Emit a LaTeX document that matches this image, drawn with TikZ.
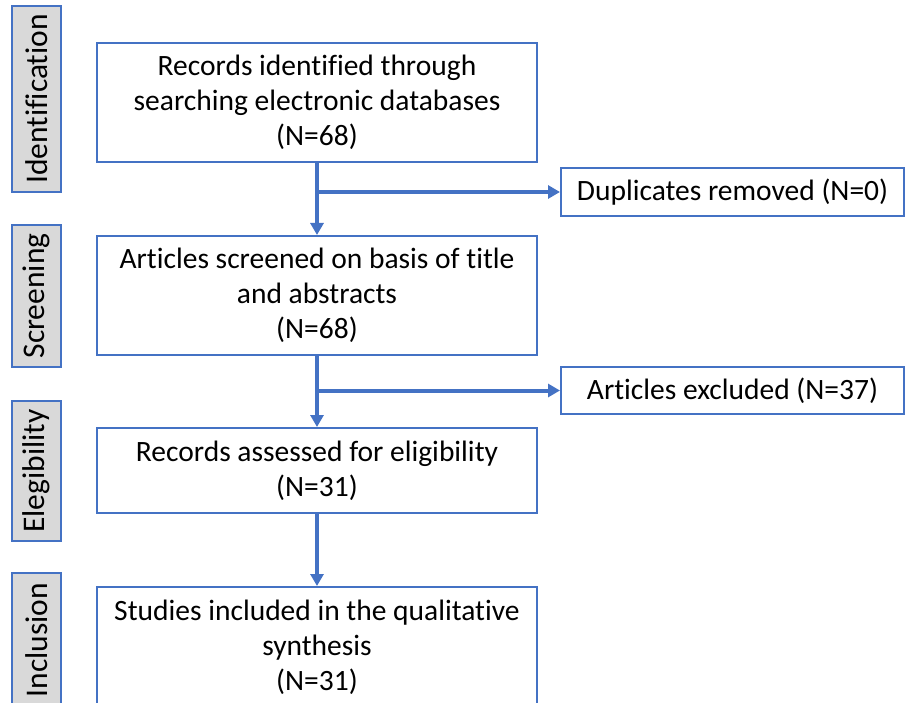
\documentclass[tikz,border=0pt]{standalone}
\usepackage{fontspec}
\setmainfont{Carlito}[Ligatures=NoCommon]
\usetikzlibrary{arrows.meta,positioning,calc}
\definecolor{boxblue}{HTML}{4472C4}
\definecolor{stagegray}{HTML}{D9D9D9}

\begin{document}
\begin{tikzpicture}[x=1pt, y=-1pt,
            every node/.style={font=\fontsize{29.5}{35}\selectfont, align=center},
            mainbox/.style={draw=boxblue, line width=2pt, fill=white, minimum width=440pt, inner sep=0pt},
            stagebox/.style={draw=boxblue, line width=1.5pt, fill=stagegray, rotate=90, minimum height=49pt,
                             inner sep=0pt, font=\fontsize{31.5}{36}\selectfont},
            sidebox/.style={draw=boxblue, line width=2pt, fill=white, minimum width=343pt, inner sep=0pt},
            flow/.style={draw=boxblue, line width=4pt, -{Triangle[length=12pt,width=13pt]}}]
        \clip (0,0) rectangle (905,703);
        % stages
        \node[stagebox, minimum width=186pt] (ident) at (36.5,99) {Identification};
        \node[stagebox, minimum width=142pt] (screen) at (36.5,296) {Screening};
        \node[stagebox, minimum width=140pt] (elig) at (36.5,471) {Elegibility};
        \node[stagebox, minimum width=134pt] (incl) at (36.5,640) {Inclusion};
        % main boxes
        \node[mainbox, minimum height=119pt] (records) at (317,102.5)
            {Records identified through\\searching electronic databases\\(N=68)};
        \node[mainbox, minimum height=119pt] (screened) at (317,295.5)
            {Articles screened on basis of title\\and abstracts\\(N=68)};
        \node[mainbox, minimum height=85pt] (assessed) at (317,470.5)
            {Records assessed for eligibility\\(N=31)};
        \node[mainbox, anchor=north, inner ysep=13pt, text depth=45pt] (studies) at (317,586)
            {Studies included in the qualitative\\synthesis\\(N=31)};
        % side boxes
        \node[sidebox, minimum height=48pt] (dups) at (732.5,192) {Duplicates removed (N=0)};
        \node[sidebox, minimum height=47pt] (excluded) at (732.5,390.5) {Articles excluded (N=37)};
        % arrows
        \draw[flow] (records.south) -- (screened.north);
        \draw[flow] (records.south |- dups.west) -- (dups.west);
        \draw[flow] (screened.south) -- (assessed.north);
        \draw[flow] (screened.south |- excluded.west) -- (excluded.west);
        \draw[flow] (assessed.south) -- (studies.north);
\end{tikzpicture}
\end{document}
